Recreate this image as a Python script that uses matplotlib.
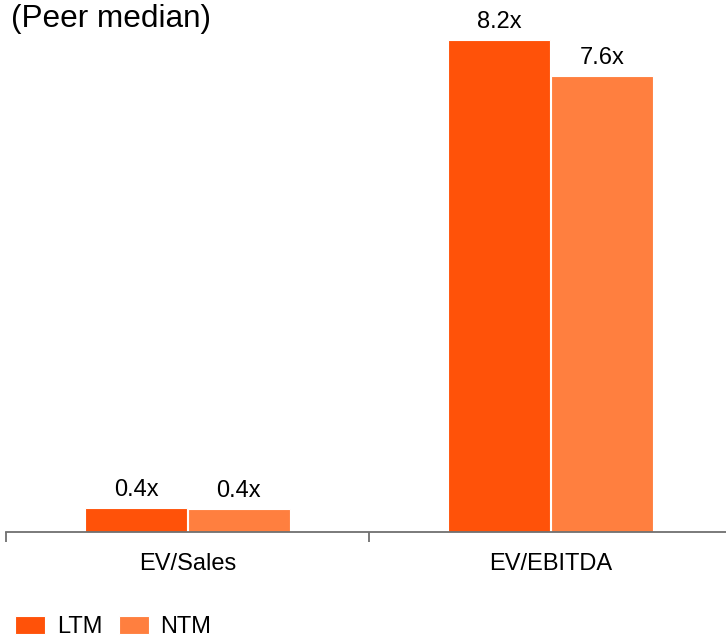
import numpy as np
import matplotlib as mpl
mpl.use('Agg')
import matplotlib.pyplot as plt

categories = ['EV/Sales', 'EV/EBITDA']
series_names = ['LTM', 'NTM']
ltm = [0.40, 8.2]
ntm = [0.38, 7.6]
ltm_labels = ['0.4x', '8.2x']
ntm_labels = ['0.4x', '7.6x']

colors = {'LTM': '#FF5209', 'NTM': '#FF7F3F'}

plt.rcParams['font.family'] = ['Liberation Sans', 'DejaVu Sans']

W, H = 726, 639
fig = plt.figure(figsize=(W / 100, H / 100), dpi=100)
# axes spills past the right edge, like the original
ax = fig.add_axes([6 / W, (H - 532) / H, 726 / W, 532 / H])

x = np.arange(len(categories))
width = 0.281
off = 0.1415
b1 = ax.bar(x - off, ltm, width, color=colors['LTM'], edgecolor='white', linewidth=0.8, label='LTM')
b2 = ax.bar(x + off, ntm, width, color=colors['NTM'], edgecolor='white', linewidth=0.8, label='NTM')

for bars, labs in [(b1, ltm_labels), (b2, ntm_labels)]:
    for r, lab in zip(bars, labs):
        ax.annotate(lab, (r.get_x() + r.get_width() / 2, r.get_height()),
                    xytext=(0, 8.5), textcoords='offset points',
                    ha='center', va='baseline', fontsize=17)

ax.set_xlim(-0.5, 1.5)
ax.set_ylim(0, 532 / 60)

for s in ['top', 'right', 'left']:
    ax.spines[s].set_visible(False)
ax.spines['bottom'].set_color('#707070')
ax.spines['bottom'].set_linewidth(1.3)
ax.set_yticks([])

ax.set_xticks([-0.5, 0.5, 1.5])
ax.set_xticklabels([])
ax.tick_params(axis='x', which='major', length=7, width=1.3, color='#707070', direction='out')
ax.set_xticks(x, minor=True)
ax.set_xticklabels(categories, minor=True)
ax.tick_params(axis='x', which='minor', length=0, pad=15, labelsize=17)

fig.text(11 / W, 1 - 4 / H, '(Peer median)', fontsize=22.7, ha='left', va='top')

leg = fig.legend(handles=[b1, b2], labels=series_names, loc='lower left',
                 bbox_to_anchor=(15 / W, 1 / H), ncol=2, frameon=False,
                 fontsize=17, handlelength=1.27, handleheight=0.8,
                 handletextpad=0.5, columnspacing=0.7, borderpad=0, borderaxespad=0)

fig.savefig('out.png', dpi=100)
